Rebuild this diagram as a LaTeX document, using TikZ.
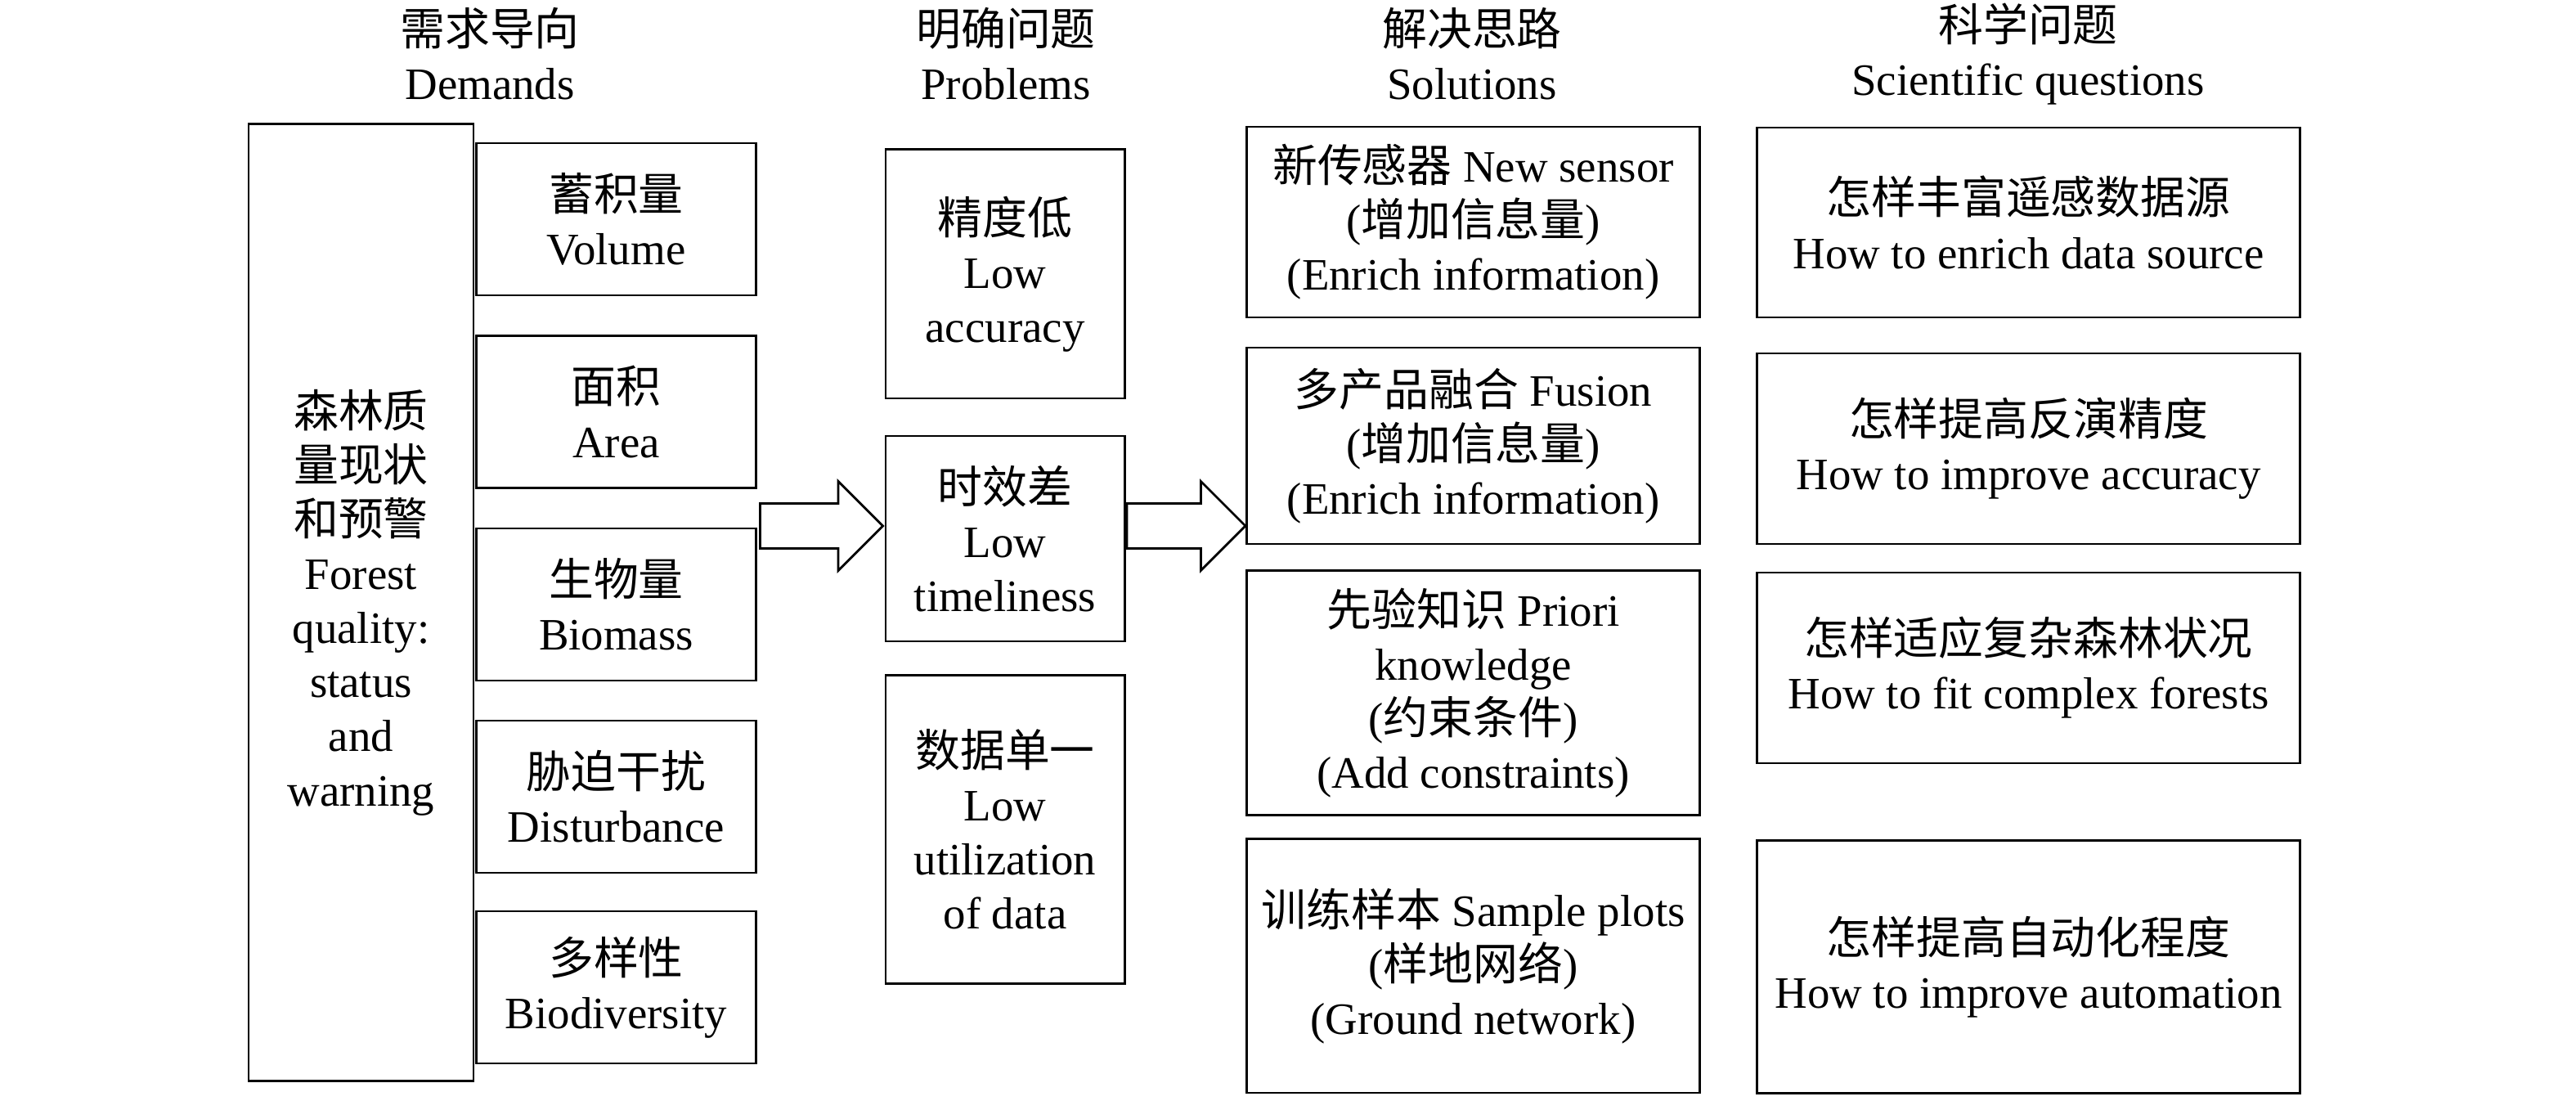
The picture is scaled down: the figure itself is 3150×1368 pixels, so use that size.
\documentclass[tikz,border=0pt]{standalone}
\usepackage{fontspec}
\setmainfont{Liberation Serif}
\newfontfamily\cjk{Noto Sans CJK SC}
\newcommand{\zh}[1]{{\cjk #1}}
\usetikzlibrary{shapes.arrows, positioning, calc}
\tikzset{
    every node/.style={font=\fontsize{15.6}{18.8}\selectfont}, % same text size everywhere
    title/.style={align=center}, % column titles on top
    box/.style={draw, line width=0.8pt, align=center, inner sep=0pt}, % sets the properties for each box
    demand/.style={box, minimum width=3.41cm, minimum height=1.86cm},
    problem/.style={box, minimum width=2.92cm},
    solution/.style={box, minimum width=5.53cm},
    question/.style={box, minimum width=6.63cm},
    blockarrow/.style={draw, line width=0.8pt, single arrow, single arrow tip angle=90,
        single arrow head extend=0.27cm, inner xsep=0pt, inner ysep=0.26cm}, % hollow wide arrows
}

\begin{document}
\begin{tikzpicture}[x=0.01cm, y=-0.01cm]

        \useasboundingbox (0,0) rectangle (3150,1368);

        % Titles
        \node[title] (tdem) at (599,66) {\zh{需求导向}\\Demands};
        \node[title] (tpro) at (1230,66) {\zh{明确问题}\\Problems};
        \node[title] (tsol) at (1800,66) {\zh{解决思路}\\Solutions};
        \node[title] (tque) at (2480,66) {\zh{科学问题}\\Scientific questions};

        % Demands
        \node[box, minimum width=2.75cm, minimum height=11.69cm] (forest) at (441.5,736.5)
            {\zh{森林质}\\\zh{量现状}\\\zh{和预警}\\Forest\\quality:\\status\\and\\warning};
        \node[demand] (d1) at (753.5,268) {\zh{蓄积量}\\Volume};
        \node[demand] (d2) at (753.5,503.5) {\zh{面积}\\Area};
        \node[demand] (d3) at (753.5,739) {\zh{生物量}\\Biomass};
        \node[demand] (d4) at (753.5,974) {\zh{胁迫干扰}\\Disturbance};
        \node[demand] (d5) at (753.5,1207) {\zh{多样性}\\Biodiversity};

        % Problems
        \node[problem, minimum height=3.04cm] (p1) at (1229,335) {\zh{精度低}\\Low\\accuracy};
        \node[problem, minimum height=2.51cm] (p2) at (1229,658.5) {\zh{时效差}\\Low\\timeliness};
        \node[problem, minimum height=3.76cm] (p3) at (1229,1014) {\zh{数据单一}\\Low\\utilization\\of data};

        % Solutions
        \node[solution, minimum height=2.33cm] (s1) at (1801.5,271.5)
            {\zh{新传感器} New sensor\\(\zh{增加信息量})\\(Enrich information)};
        \node[solution, minimum height=2.40cm] (s2) at (1801.5,545)
            {\zh{多产品融合} Fusion\\(\zh{增加信息量})\\(Enrich information)};
        \node[solution, minimum height=2.99cm] (s3) at (1801.5,847)
            {\zh{先验知识} Priori\\knowledge\\(\zh{约束条件})\\(Add constraints)};
        \node[solution, minimum height=3.10cm] (s4) at (1801.5,1181)
            {\zh{训练样本} Sample plots\\(\zh{样地网络})\\(Ground network)};

        % Scientific questions
        \node[question, minimum height=2.32cm] (q1) at (2480.5,272) {\zh{怎样丰富遥感数据源}\\How to enrich data source};
        \node[question, minimum height=2.33cm] (q2) at (2480.5,548.5) {\zh{怎样提高反演精度}\\How to improve accuracy};
        \node[question, minimum height=2.33cm] (q3) at (2480.5,816.5) {\zh{怎样适应复杂森林状况}\\How to fit complex forests};
        \node[question, minimum height=3.09cm] (q4) at (2480.5,1182) {\zh{怎样提高自动化程度}\\How to improve automation};

        % arrows
        \node[blockarrow, minimum height=1.5cm, anchor=tip] (a1) at ($(p2.west)+(0,-15.5)$) {};
        \node[blockarrow, minimum height=1.45cm, anchor=tail] (a2) at ($(p2.east)+(0,-15.5)$) {};

\end{tikzpicture}
\end{document}
